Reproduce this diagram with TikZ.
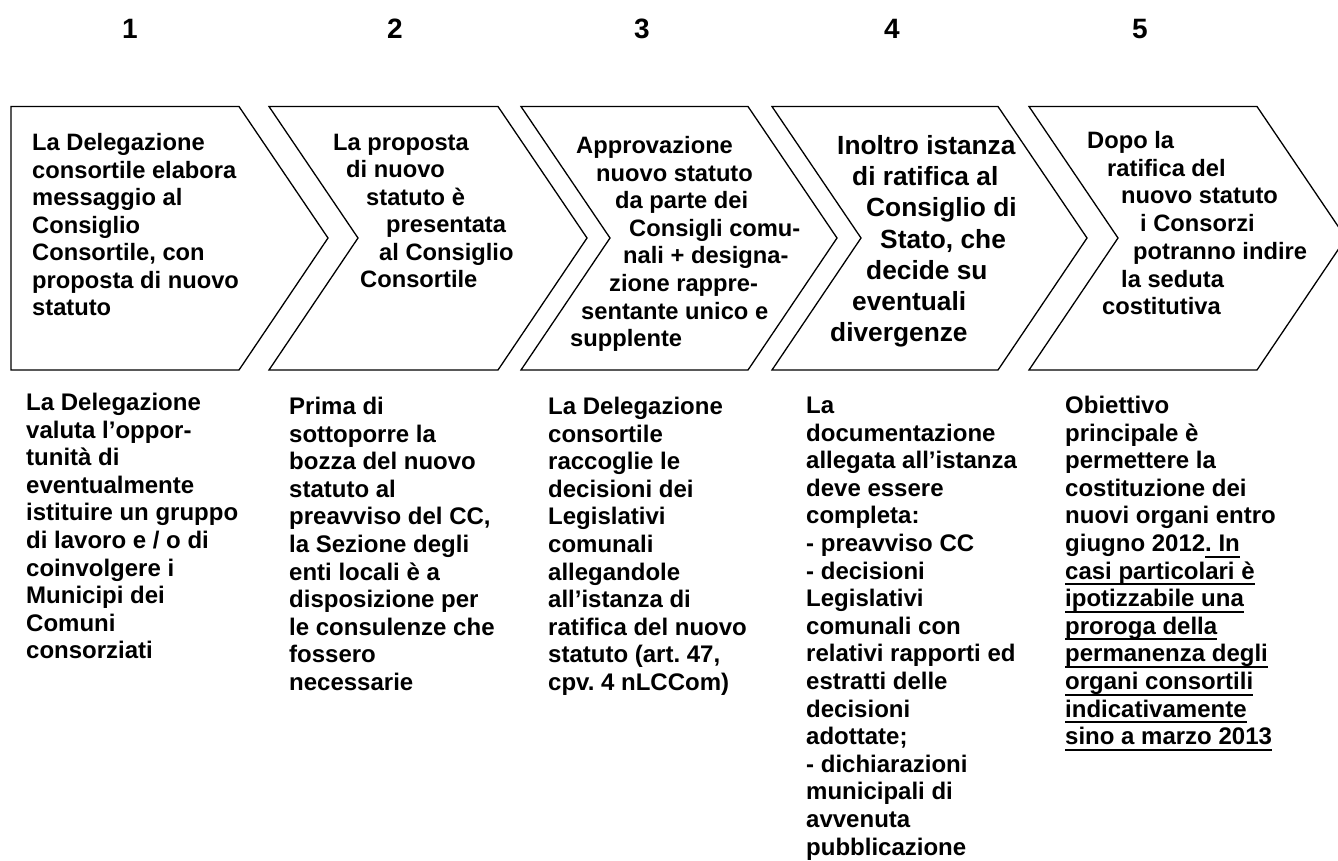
\documentclass[tikz,border=0pt]{standalone}
\usepackage{fontspec}
\setmainfont{Liberation Sans}
\frenchspacing
\newcommand\myul[1]{\setbox0=\hbox{#1}\rlap{\rule[-6pt]{\wd0}{2pt}}\box0}
\begin{document}
\begin{tikzpicture}[x=1pt,y=-1pt,
  shp/.style={draw=black, line width=1.3pt, line join=miter},
  txt/.style={anchor=base west, inner sep=0pt, font=\fontsize{23.7}{27.5}\selectfont\bfseries},
  txtb/.style={anchor=base west, inner sep=0pt, font=\fontsize{26.3}{31}\selectfont\bfseries},
  low/.style={anchor=base west, inner sep=0pt, font=\fontsize{24}{27.6}\selectfont\bfseries},
  num/.style={anchor=base, inner sep=0pt, font=\fontsize{28}{30}\selectfont\bfseries}]
\useasboundingbox (0,0) rectangle (1338,860);
\fill[white] (0,0) rectangle (1338,860);
% numbers
\node[num] (n1) at (130,38) {1};
\node[num] (n2) at (395,38) {2};
\node[num] (n3) at (642,38) {3};
\node[num] (n4) at (892,38) {4};
\node[num] (n5) at (1140,38) {5};
% shapes
\def\yt{106.5}\def\yb{370}\def\ym{238}\def\dp{89}
\draw[shp] (11,\yt) -- (239,\yt) -- (328,\ym) -- (239,\yb) -- (11,\yb) -- cycle;
\foreach \L/\R in {269/498, 521/748, 772/998, 1029/1257}{
  \draw[shp] (\L,\yt) -- (\R,\yt) -- (\R+\dp,\ym) -- (\R,\yb) -- (\L,\yb) -- (\L+\dp,\ym) -- cycle;
}
% shape 1 text
\foreach \x/\t [count=\i from 0] in {32/{La Delegazione},32/{consortile elabora},32/{messaggio al},32/{Consiglio},32/{Consortile, con},32/{proposta di nuovo},32/{statuto}}
  \node[txt] (a\i) at (\x,150.5+\i*27.5) {\t};
% shape 2 text
\foreach \x/\t [count=\i from 0] in {333/{La proposta},346/{di nuovo},366/{statuto è},386/{presentata},379/{al Consiglio},360/{Consortile}}
  \node[txt] (b\i) at (\x,150.5+\i*27.4) {\t};
% shape 3 text
\foreach \x/\t [count=\i from 0] in {576/{Approvazione},596/{nuovo statuto},615/{da parte dei},629/{Consigli comu-},623/{nali + designa-},609/{zione rappre-},581/{sentante unico e},570/{supplente}}
  \node[txt] (c\i) at (\x,153.5+\i*27.6) {\t};
% shape 4 text
\foreach \x/\t [count=\i from 0] in {837/{Inoltro istanza},852/{di ratifica al},866/{Consiglio di},880/{Stato, che},866/{decide su},852/{eventuali},830/{divergenze}}
  \node[txtb] (d\i) at (\x,154.4+\i*31.2) {\t};
% shape 5 text
\foreach \x/\t [count=\i from 0] in {1087/{Dopo la},1107/{ratifica del},1121/{nuovo statuto},1140/{i Consorzi},1133/{potranno indire},1121/{la seduta},1102/{costitutiva}}
  \node[txt] (e\i) at (\x,148.5+\i*27.7) {\t};
% lower texts
\foreach \t [count=\i from 0] in {{La Delegazione},{valuta l’oppor-},{tunità di},{eventualmente},{istituire un gruppo},{di lavoro e / o di},{coinvolgere i},{Municipi dei},{Comuni},{consorziati}}
  \node[low] (f\i) at (26,410.5+\i*27.6) {\t};
\foreach \t [count=\i from 0] in {{Prima di},{sottoporre la},{bozza del nuovo},{statuto al},{preavviso del CC,},{la Sezione degli},{enti locali è a},{disposizione per},{le consulenze che},{fossero},{necessarie}}
  \node[low] (g\i) at (289,414.5+\i*27.6) {\t};
\foreach \t [count=\i from 0] in {{La Delegazione},{consortile},{raccoglie le},{decisioni dei},{Legislativi},{comunali},{allegandole},{all’istanza di},{ratifica del nuovo},{statuto (art. 47,},{cpv. 4 nLCCom)}}
  \node[low] (h\i) at (548,414.5+\i*27.6) {\t};
\foreach \t [count=\i from 0] in {{La},{documentazione},{allegata all’istanza},{deve essere},{completa:},{- preavviso CC},{- decisioni},{Legislativi},{comunali con},{relativi rapporti ed},{estratti delle},{decisioni},{adottate;},{- dichiarazioni},{municipali di},{avvenuta},{pubblicazione}}
  \node[low] (k\i) at (806,413.5+\i*27.6) {\t};
\foreach \t [count=\i from 0] in {{Obiettivo},{principale è},{permettere la},{costituzione dei},{nuovi organi entro},{giugno 2012\myul{. In}},{\myul{casi particolari è}},{\myul{ipotizzabile una}},{\myul{proroga della}},{\myul{permanenza degli}},{\myul{organi consortili}},{\myul{indicativamente}},{\myul{sino a marzo 2013}}}
  \node[low] (m\i) at (1065,413.5+\i*27.6) {\t};
\end{tikzpicture}
\end{document}
